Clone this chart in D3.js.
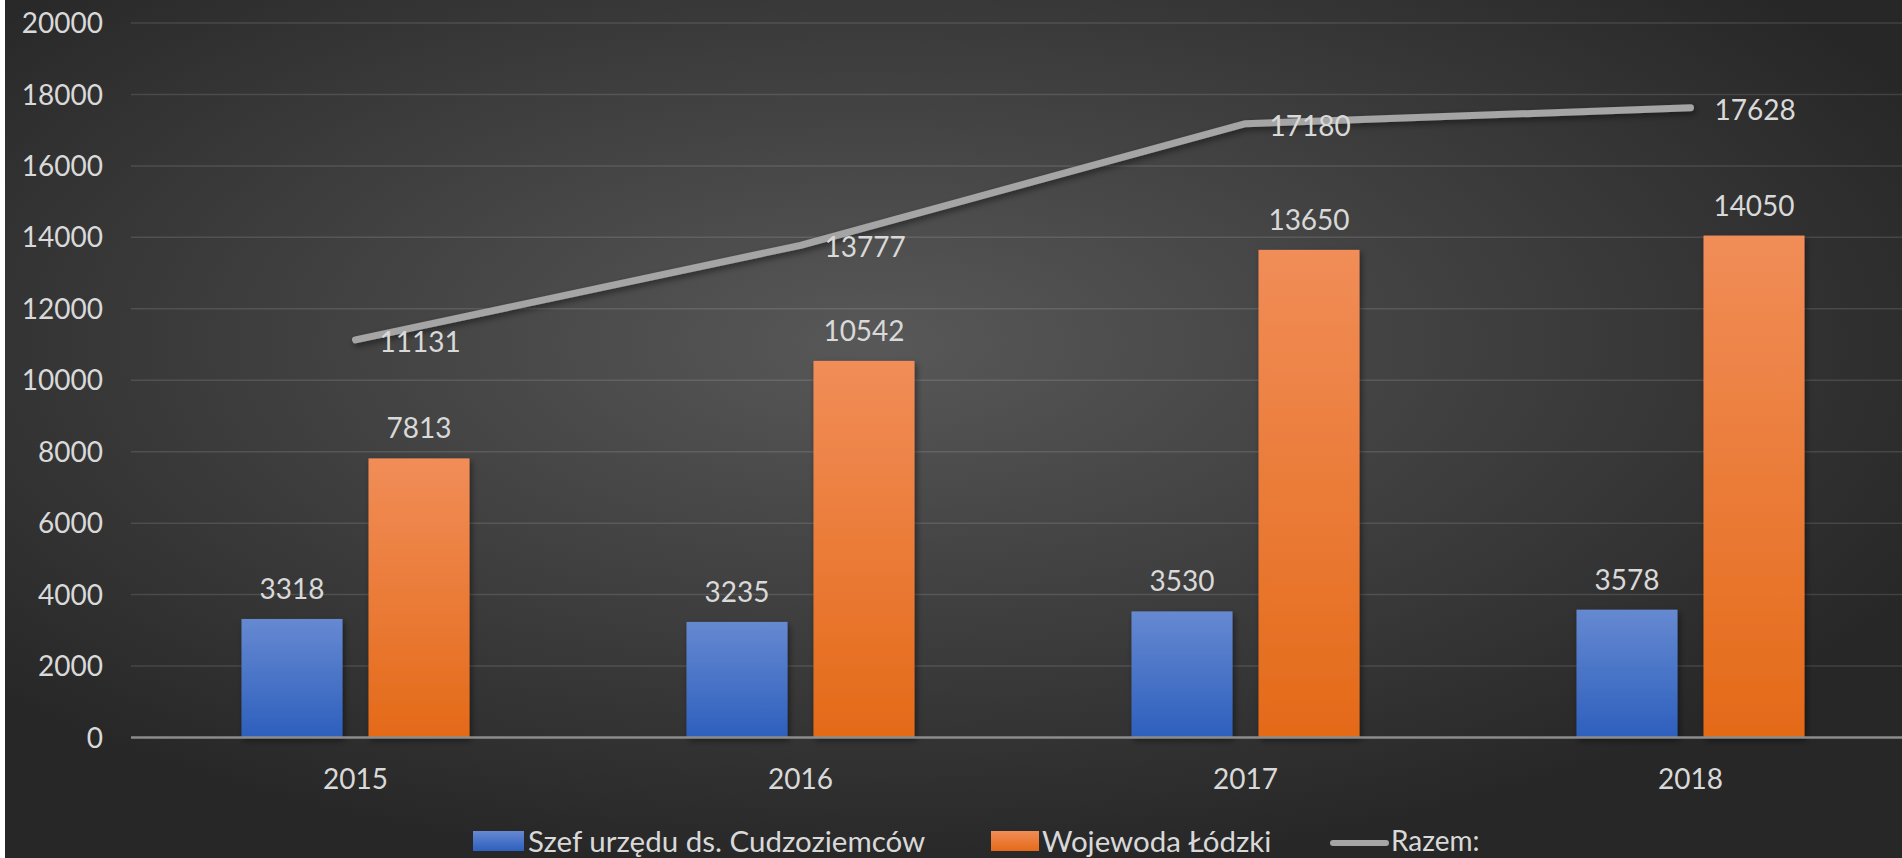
<!DOCTYPE html>
<html>
<head>
<meta charset="utf-8">
<script src="https://cdn.jsdelivr.net/npm/d3@7"></script>
<style>
  body { margin: 0; background: #ffffff; }
  svg { display: block; font-family: Lato, "Open Sans", sans-serif; }
</style>
</head>
<body>
<script>
// chart data
var years = ["2015", "2016", "2017", "2018"];
var szef = [3318, 3235, 3530, 3578];
var wojewoda = [7813, 10542, 13650, 14050];
var razem = [11131, 13777, 17180, 17628];
var yTicks = [0, 2000, 4000, 6000, 8000, 10000, 12000, 14000, 16000, 18000, 20000];
var seriesNames = ["Szef urzędu ds. Cudzoziemców", "Wojewoda Łódzki", "Razem:"];

var width = 1902;
var height = 858;
var textColor = "#d9d9d9";

var svg = d3.select("body").append("svg")
    .attr("width", width)
    .attr("height", height);

var defs = svg.append("defs");

// background radial gradient
var bg = defs.append("radialGradient").attr("id", "bg")
    .attr("cx", "46%").attr("cy", "40%").attr("r", "62%");
bg.append("stop").attr("offset", "0%").attr("stop-color", "#585858");
bg.append("stop").attr("offset", "100%").attr("stop-color", "#272727");

// bar gradients
function barGrad(id, top, bottom) {
    var g = defs.append("linearGradient").attr("id", id)
        .attr("x1", 0).attr("y1", 0).attr("x2", 0).attr("y2", 1);
    g.append("stop").attr("offset", "0%").attr("stop-color", top);
    g.append("stop").attr("offset", "100%").attr("stop-color", bottom);
}
barGrad("blue", "#6689d1", "#2d5fbd");
barGrad("orange", "#f18d58", "#e46a18");

var shadow = defs.append("filter").attr("id", "shadow")
    .attr("x", "-10%").attr("y", "-10%").attr("width", "130%").attr("height", "140%");
shadow.append("feDropShadow").attr("dx", 2).attr("dy", 3).attr("stdDeviation", 3)
    .attr("flood-color", "#000").attr("flood-opacity", 0.45);

svg.append("rect")
    .attr("x", 5).attr("y", 0)
    .attr("width", width - 5).attr("height", height)
    .attr("fill", "url(#bg)");

// scales
var x = d3.scaleBand().domain(years).range([133, 1913]);
var y = d3.scaleLinear().domain([0, 20000]).range([737.5, 23]);

var barW = 101, gap = 13;

// gridlines
svg.append("g").selectAll("line")
    .data(yTicks.filter(function(d) { return d > 0; }))
    .enter().append("line")
    .attr("x1", 131).attr("x2", width)
    .attr("y1", function(d) { return y(d); })
    .attr("y2", function(d) { return y(d); })
    .attr("stroke", "rgba(255,255,255,0.12)")
    .attr("stroke-width", 1.5);

// y axis labels
svg.append("g").selectAll("text")
    .data(yTicks)
    .enter().append("text")
    .attr("x", 103)
    .attr("y", function(d) { return y(d); })
    .attr("dy", "0.36em")
    .attr("text-anchor", "end")
    .attr("fill", textColor)
    .style("font-size", "28px")
    .text(function(d) { return d; });

// bars
var barData = years.map(function(yr, i) {
    return { year: yr, s: szef[i], w: wojewoda[i] };
});

svg.append("g").selectAll("rect")
    .data(barData).enter().append("rect")
    .attr("x", function(d) { return x(d.year) + x.bandwidth() / 2 - gap - barW; })
    .attr("y", function(d) { return y(d.s); })
    .attr("width", barW)
    .attr("height", function(d) { return y(0) - y(d.s); })
    .attr("fill", "url(#blue)")
    .attr("filter", "url(#shadow)");

svg.append("g").selectAll("rect")
    .data(barData).enter().append("rect")
    .attr("x", function(d) { return x(d.year) + x.bandwidth() / 2 + gap; })
    .attr("y", function(d) { return y(d.w); })
    .attr("width", barW)
    .attr("height", function(d) { return y(0) - y(d.w); })
    .attr("fill", "url(#orange)")
    .attr("filter", "url(#shadow)");

// zero axis line
svg.append("line")
    .attr("x1", 131).attr("x2", width)
    .attr("y1", y(0)).attr("y2", y(0))
    .attr("stroke", "#8c8c8c")
    .attr("stroke-width", 2.5);

// bar labels
svg.append("g").selectAll("text")
    .data(barData).enter().append("text")
    .attr("x", function(d) { return x(d.year) + x.bandwidth() / 2 - gap - barW / 2; })
    .attr("y", function(d) { return y(d.s) - 20; })
    .attr("text-anchor", "middle")
    .attr("fill", textColor)
    .style("font-size", "28px")
    .text(function(d) { return d.s; });

svg.append("g").selectAll("text")
    .data(barData).enter().append("text")
    .attr("x", function(d) { return x(d.year) + x.bandwidth() / 2 + gap + barW / 2; })
    .attr("y", function(d) { return y(d.w) - 20; })
    .attr("text-anchor", "middle")
    .attr("fill", textColor)
    .style("font-size", "28px")
    .text(function(d) { return d.w; });

// total line
var lineData = years.map(function(yr, i) { return { year: yr, v: razem[i] }; });
var line = d3.line()
    .x(function(d) { return x(d.year) + x.bandwidth() / 2; })
    .y(function(d) { return y(d.v); });

svg.append("path")
    .datum(lineData)
    .attr("d", line)
    .attr("fill", "none")
    .attr("stroke", "#a5a5a5")
    .attr("stroke-width", 7)
    .attr("stroke-linecap", "round")
    .attr("stroke-linejoin", "round")
    .attr("filter", "url(#shadow)");

svg.append("g").selectAll("text")
    .data(lineData).enter().append("text")
    .attr("x", function(d) { return x(d.year) + x.bandwidth() / 2 + 24; })
    .attr("y", function(d) { return y(d.v) + 2; })
    .attr("dy", "0.36em")
    .attr("fill", textColor)
    .style("font-size", "28px")
    .text(function(d) { return d.v; });

// category labels
svg.append("g").selectAll("text")
    .data(years).enter().append("text")
    .attr("x", function(d) { return x(d) + x.bandwidth() / 2; })
    .attr("y", 779)
    .attr("dy", "0.36em")
    .attr("text-anchor", "middle")
    .attr("fill", textColor)
    .style("font-size", "28px")
    .text(function(d) { return d; });

// legend
var legend = svg.append("g").style("font-size", "29.5px");
legend.append("rect").attr("x", 473).attr("y", 831).attr("width", 51).attr("height", 20)
    .attr("fill", "url(#blue)");
legend.append("text").attr("x", 528).attr("y", 841).attr("dy", "0.36em")
    .attr("fill", textColor).text(seriesNames[0]);
legend.append("rect").attr("x", 991).attr("y", 831).attr("width", 48).attr("height", 20)
    .attr("fill", "url(#orange)");
legend.append("text").attr("x", 1042).attr("y", 841).attr("dy", "0.36em")
    .attr("fill", textColor).text(seriesNames[1]);
legend.append("line").attr("x1", 1333).attr("x2", 1386).attr("y1", 843).attr("y2", 843)
    .attr("stroke", "#a5a5a5").attr("stroke-width", 6).attr("stroke-linecap", "round");
legend.append("text").attr("x", 1391).attr("y", 841).attr("dy", "0.36em")
    .attr("fill", textColor).style("font-size", "28px").text(seriesNames[2]);
</script>
</body>
</html>
